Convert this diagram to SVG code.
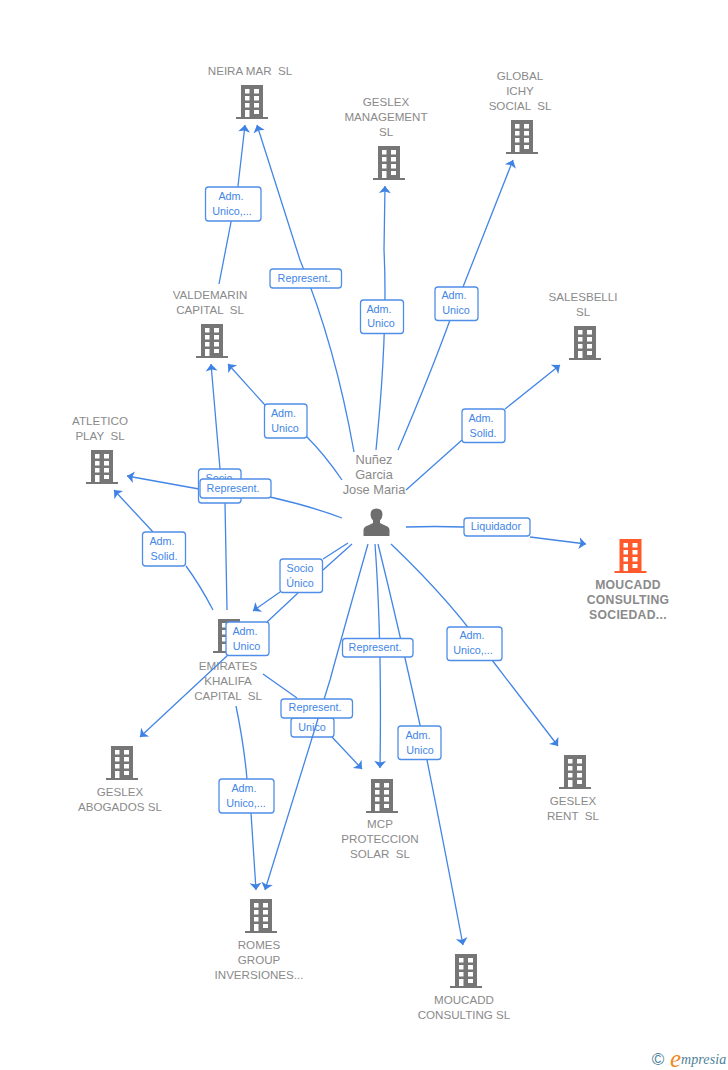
<svg xmlns="http://www.w3.org/2000/svg" width="728" height="1070" viewBox="0 0 728 1070">
<style>
.n{font:11.600px "Liberation Sans",Arial,sans-serif;fill:#8a8a8a;text-anchor:middle;white-space:pre}
.b{font-weight:bold;font-size:12.200px;letter-spacing:.3px}
.p{font-size:12.800px}
.l{fill:none;stroke:#4386e6;stroke-width:1.300;marker-end:url(#a)}
.x{fill:#fff;stroke:#4f8ee8;stroke-width:1.300}
.t{font:10.800px "Liberation Sans",Arial,sans-serif;fill:#4386e6;text-anchor:middle}
</style>
<defs>
<marker id="a" markerUnits="userSpaceOnUse" markerWidth="13" markerHeight="13" viewBox="-7 -6 8 12" refX="0" refY="0" orient="auto"><path d="M0,0L-6.500,-5.500L-5,0L-6.500,5.500Z" fill="#3f82e3"/></marker>
<g id="bld">
<path fill-rule="evenodd" d="M-11,0H11V32H16V34H-16V32H-11ZM-7,4V8.500H-2.500V4ZM2,4V8.500H7V4ZM-7,11V15.500H-2.500V11ZM2,11V15.500H7V11ZM-7,18V22.500H-2.500V18ZM2,18V22.500H7V18ZM-7,25V32H-2.500V25ZM2,25V29H7V25Z"/>
</g>
</defs>
<rect width="728" height="1070" fill="#fff"/>
<g id="n1" fill="#767676"><use href="#bld" x="252" y="85"/><text class="n" x="250" y="75">NEIRA MAR  SL</text></g>
<g id="n2" fill="#767676"><use href="#bld" x="389" y="146"/><text class="n" x="386" y="106">GESLEX</text><text class="n" x="386" y="121">MANAGEMENT</text><text class="n" x="386" y="136">SL</text></g>
<g id="n3" fill="#767676"><use href="#bld" x="522" y="120"/><text class="n" x="520" y="80">GLOBAL</text><text class="n" x="520" y="95">ICHY</text><text class="n" x="520" y="110">SOCIAL  SL</text></g>
<g id="n4" fill="#767676"><use href="#bld" x="585" y="326"/><text class="n" x="583" y="301">SALESBELLI</text><text class="n" x="583" y="316">SL</text></g>
<g id="n5" fill="#767676"><use href="#bld" x="212" y="324"/><text class="n" x="210" y="299">VALDEMARIN</text><text class="n" x="210" y="314">CAPITAL  SL</text></g>
<g id="n6" fill="#767676"><use href="#bld" x="102" y="450"/><text class="n" x="100" y="425">ATLETICO</text><text class="n" x="100" y="440">PLAY  SL</text></g>
<g id="n7" fill="#767676"><use href="#bld" x="229" y="619"/><text class="n" x="228" y="670">EMIRATES</text><text class="n" x="228" y="685">KHALIFA</text><text class="n" x="228" y="700">CAPITAL  SL</text></g>
<g id="n8" fill="#767676"><use href="#bld" x="122" y="746"/><text class="n" x="120" y="796">GESLEX</text><text class="n" x="120" y="811">ABOGADOS SL</text></g>
<g id="n9" fill="#ff5a2c"><use href="#bld" x="630.500" y="539"/><text class="n b" x="628" y="589">MOUCADD</text><text class="n b" x="628" y="604">CONSULTING</text><text class="n b" x="628" y="619">SOCIEDAD...</text></g>
<g id="n10" fill="#767676"><use href="#bld" x="575" y="755"/><text class="n" x="573" y="805">GESLEX</text><text class="n" x="573" y="820">RENT  SL</text></g>
<g id="n11" fill="#767676"><use href="#bld" x="382" y="779"/><text class="n" x="380" y="828">MCP</text><text class="n" x="380" y="843">PROTECCION</text><text class="n" x="380" y="858">SOLAR  SL</text></g>
<g id="n12" fill="#767676"><use href="#bld" x="261" y="899"/><text class="n" x="259" y="949">ROMES</text><text class="n" x="259" y="964">GROUP</text><text class="n" x="259" y="979">INVERSIONES...</text></g>
<g id="n13" fill="#767676"><use href="#bld" x="466" y="954"/><text class="n" x="464" y="1004">MOUCADD</text><text class="n" x="464" y="1019">CONSULTING SL</text></g>
<g id="person" fill="#6e6e6e"><path d="M363.500,536V530Q363.500,526.500 369,525L373,523V520.500Q370.500,518 370.500,514.500Q370.500,508.500 376.500,508.500Q382.500,508.500 382.500,514.500Q382.500,518 380,520.500V523L384,525Q389.500,526.500 389.500,530V536Z"/><text class="n p" x="374" y="464">Nuñez</text><text class="n p" x="374" y="479">Garcia</text><text class="n p" x="374" y="494">Jose Maria</text></g>
<g id="connectors">
<path class="l" d="M354,452Q335,345 300,260L257,125"/>
<path class="l" d="M219,284L238,186L245,125"/>
<path class="l" d="M342,480Q325,455 307,437L264,404L228,364"/>
<path class="l" d="M376,450Q388,330 384,250L385,186"/>
<path class="l" d="M398,450Q430,375 450,320L513,160"/>
<path class="l" d="M406,490L462,440M505,409L560,365"/>
<path class="l" d="M406,527Q435,526 464,527M530,537L586,544"/>
<path class="l" d="M391,544Q455,605 492,660L558,746"/>
<path class="l" d="M378,544Q398,625 420,725L427,760Q445,850 463,945"/>
<path class="l" d="M375,544Q382,640 380,768"/>
<path class="l" d="M348,543L323,559M280,592L253,611"/>
<path class="l" d="M352,544L323,570M298,593L267,622M228,655L140,737"/>
<path class="l" d="M342,518Q310,506 270,497M199,489L127,476"/>
<path class="l" d="M227,610Q226,550 225,503M220,469L211,364"/>
<path class="l" d="M213,610Q200,585 186,566M153,532L114,490"/>
<path class="l" d="M236,706Q244,745 247,779M251,813L256,890"/>
<path class="l" d="M263,674L297,698M332,737L362,769"/>
<g><rect class="x" x="205.500" y="187" width="55.500" height="34" rx="3"/><text class="t" x="231" y="200">Adm.</text><text class="t" x="232" y="215">Unico,...</text></g>
<g><rect class="x" x="270" y="269" width="71.500" height="19" rx="3"/><text class="t" x="304" y="282">Represent.</text></g>
<g><rect class="x" x="264.500" y="404" width="42.500" height="34" rx="3"/><text class="t" x="283.500" y="417">Adm.</text><text class="t" x="285" y="432">Unico</text></g>
<g><rect class="x" x="360.500" y="300" width="43" height="33.500" rx="3"/><text class="t" x="379" y="313">Adm.</text><text class="t" x="381" y="327">Unico</text></g>
<g><rect class="x" x="435" y="287" width="43" height="33.500" rx="3"/><text class="t" x="454" y="299">Adm.</text><text class="t" x="456" y="314">Unico</text></g>
<g><rect class="x" x="462" y="409" width="43" height="33.500" rx="3"/><text class="t" x="481" y="422">Adm.</text><text class="t" x="483" y="437">Solid.</text></g>
<g><rect class="x" x="464" y="518" width="66" height="18" rx="3"/><text class="t" x="496" y="530">Liquidador</text></g>
<g><rect class="x" x="447" y="627" width="55" height="33.500" rx="3"/><text class="t" x="472" y="639">Adm.</text><text class="t" x="473" y="654">Unico,...</text></g>
<g><rect class="x" x="398" y="726" width="43" height="33.500" rx="3"/><text class="t" x="418" y="739">Adm.</text><text class="t" x="420" y="754">Unico</text></g>
<g><rect class="x" x="342.500" y="638.500" width="70.500" height="18.500" rx="3"/><text class="t" x="375" y="651">Represent.</text></g>
<g><rect class="x" x="280" y="559" width="42.500" height="33.500" rx="3"/><text class="t" x="300" y="572">Socio</text><text class="t" x="300" y="587">Único</text></g>
<g><rect class="x" x="226" y="622" width="43" height="33.500" rx="3"/><text class="t" x="245" y="635">Adm.</text><text class="t" x="246.500" y="650">Unico</text></g>
<g><rect class="x" x="198.500" y="469" width="42.500" height="34" rx="3"/><text class="t" x="219" y="482">Socio</text></g>
<g><rect class="x" x="200" y="479" width="71" height="19" rx="3"/><text class="t" x="233" y="492">Represent.</text></g>
<g><rect class="x" x="142.500" y="532" width="43" height="34" rx="3"/><text class="t" x="162" y="545">Adm.</text><text class="t" x="164" y="560">Solid.</text></g>
<g><rect class="x" x="219" y="779" width="55" height="34" rx="3"/><text class="t" x="244" y="792">Adm.</text><text class="t" x="246" y="807">Unico,...</text></g>
<g><rect class="x" x="291" y="718" width="43" height="19" rx="3"/><text class="t" x="312" y="731">Unico</text></g>
<path class="l" d="M368,544Q345,625 330,680L265,890"/>
<g><rect class="x" x="281" y="699" width="71.500" height="19" rx="3"/><text class="t" x="315" y="711">Represent.</text></g>
</g>
<g id="logo">
<text x="658" y="1065" font-family="Liberation Sans,sans-serif" font-size="17" fill="#4d8299" text-anchor="middle">©</text>
<text x="670" y="1067" font-family="Liberation Serif,serif" font-style="italic" font-size="25" fill="#f08a24">e</text>
<text x="681" y="1064" font-family="Liberation Serif,serif" font-style="italic" font-size="14" letter-spacing=".1" fill="#4d8299">mpresia</text>
</g>
</svg>
